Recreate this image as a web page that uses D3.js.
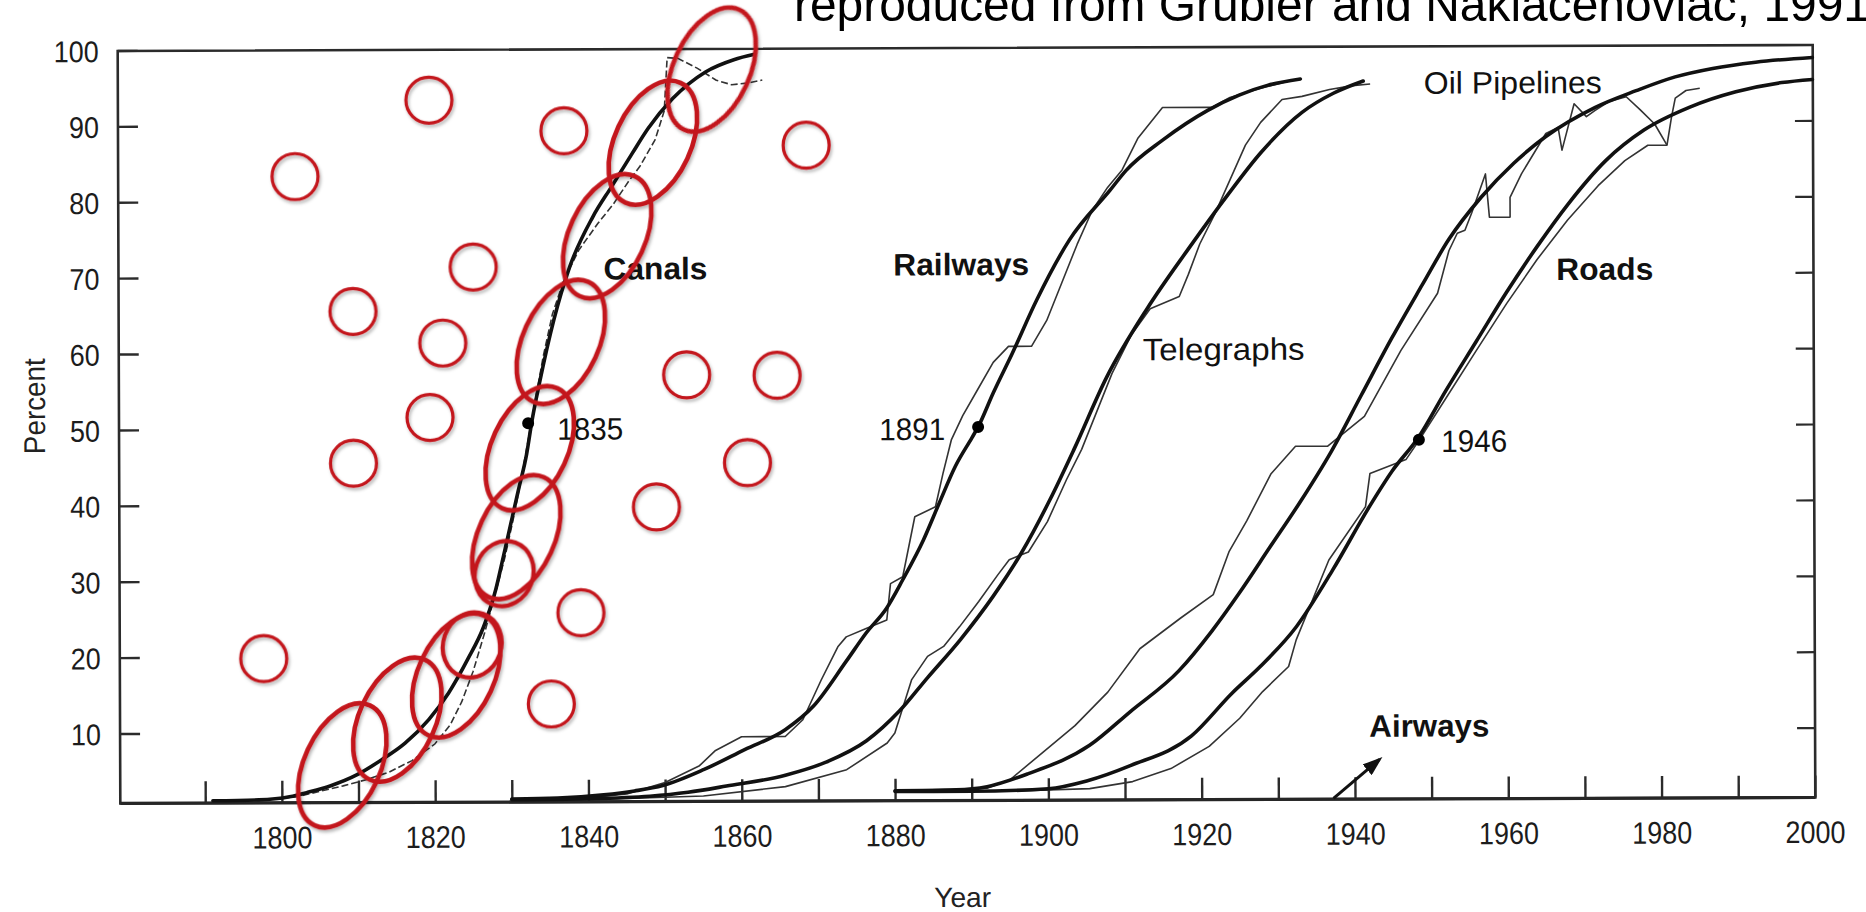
<!DOCTYPE html>
<html>
<head>
<meta charset="utf-8">
<title>Growth of US infrastructure (percent of saturation)</title>
<script src="https://cdn.jsdelivr.net/npm/d3@7/dist/d3.min.js"></script>
<style>
html,body{margin:0;padding:0;background:#ffffff;}
svg{display:block;}
</style>
</head>
<body>
<svg id="chart" width="1866" height="912"></svg>
<script>
// ================= DATA =================
const yearTicks = [1790,1800,1810,1820,1830,1840,1850,1860,1870,1880,1890,1900,1910,1920,1930,1940,1950,1960,1970,1980,1990,2000];
const yearLabels = [1800,1820,1840,1860,1880,1900,1920,1940,1960,1980,2000];
const percentTicks = [10,20,30,40,50,60,70,80,90,100];

// [year, percent] – smooth fitted curves (thick) and observed data (thin)
const canalsFit = [[1791,1.1],[1797,1.2],[1801,1.6],[1803.5,2.2],[1806.3,3],[1809.9,4.5],[1813,6.4],[1816.1,8.6],[1819.2,11.7],[1821.8,15.2],[1824.3,19.6],[1826.4,23.9],[1828,28.8],[1829,33.1],[1830,37.5],[1831,41.9],[1832.1,46.7],[1832.8,51],[1833.8,56],[1835.7,64.3],[1837.8,71.3],[1840.8,77.8],[1843.4,82],[1846,86.2],[1848.1,89.5],[1851.3,93.4],[1855.6,96.9],[1859.3,98.5],[1862,99.2]];
const canalsData = [[1791,1.1],[1798,1.2],[1802,1.6],[1805,2.3],[1808,3],[1811,3.8],[1814,4.8],[1817,6.3],[1820,8.5],[1822,11],[1823.5,14],[1825,18],[1826.5,23],[1828,28.5],[1829.2,33],[1830.3,38],[1831.3,43],[1832.3,48.5],[1833.3,54],[1834.3,59.5],[1835.5,65],[1837,69.5],[1839,73.5],[1841.5,77],[1843.5,79.5],[1845.5,82.5],[1847,84.5],[1849,88],[1850.2,91.8],[1850.6,98.8],[1852,98.7],[1854.5,97.4],[1857,95.8],[1859,95.2],[1861,95.4],[1863,95.8]];

const railwaysFit = [[1830,1.2],[1836,1.3],[1842,1.7],[1846,2.2],[1849.7,2.9],[1855.1,5.0],[1860.4,7.6],[1865.7,10.2],[1869.4,13.3],[1873.7,19.2],[1876.3,22.9],[1879,26.2],[1881.1,29.9],[1883.8,35.1],[1885.9,40],[1888,44.8],[1890.2,48.6],[1891,50],[1893,54.5],[1895.5,59.7],[1898.7,66.7],[1903,74.6],[1908.3,81.1],[1910.4,83.7],[1915.2,87.7],[1921.1,91.6],[1925.2,93.6],[1929,94.9],[1933.2,95.7]];
const railwaysData = [[1830,1.2],[1840,1.3],[1845,1.8],[1850,3.3],[1854.5,5.5],[1856.6,7.5],[1860,9.3],[1865.7,9.3],[1868,11.5],[1870.4,16.7],[1872.6,21.1],[1873.7,22.4],[1876.3,23.5],[1879,24.6],[1879.5,29.4],[1881.1,30.3],[1882.7,38.2],[1885.4,39.5],[1886.4,43.9],[1887.5,48.3],[1889,51.5],[1891,55],[1893,58.5],[1895,60.6],[1898,60.6],[1900,64],[1902,69],[1904,74],[1906,78.5],[1908,81.5],[1909.9,83.8],[1912,88],[1915.2,92],[1921.6,92],[1924,93.3],[1928,94.5],[1932,95.5]];

const telegraphsFit = [[1830,1.1],[1840,1.2],[1848,1.5],[1853,2],[1858,2.8],[1865.7,4.2],[1871,5.9],[1876.3,8.7],[1880.6,12.6],[1884.3,17],[1888.6,22],[1892.9,27.7],[1896.6,33.4],[1900.3,40.3],[1903.5,47],[1907.8,56.5],[1913.1,65.5],[1918.4,73.2],[1923.7,80.5],[1928,86],[1933.4,91.3],[1937.5,93.8],[1941.4,95.4]];
const telegraphsData = [[1830,1.1],[1845,1.2],[1855,1.5],[1865.7,2.7],[1873.7,4.9],[1879,8.4],[1880,9.7],[1881.1,13.2],[1882.2,16.7],[1884.3,19.8],[1886.4,21.1],[1888.5,23.7],[1891,27],[1893.5,30.5],[1895,32.5],[1897.5,33.5],[1900,37.5],[1902.5,43],[1904.5,47],[1906.5,52],[1908.5,57],[1911,62],[1913.5,65.5],[1917.3,67.1],[1918.5,70],[1920,74],[1922,78],[1924,82.5],[1926,87],[1928,90],[1930.8,93],[1933.4,93.4],[1937,94.3],[1940,94.8],[1942.3,95]];

const oilFit = [[1880,2.1],[1888,2.2],[1892,2.6],[1897.4,4.3],[1905.4,8],[1910.7,12.4],[1917.1,17.8],[1921.4,23],[1925,28],[1929,34],[1933,40],[1937,46.5],[1941,54],[1945,61.5],[1949,68.5],[1952.5,74.5],[1956.7,80],[1961,84.5],[1965.2,88],[1971.6,91.8],[1977,94],[1982.1,95.8],[1987,96.9],[1992.6,97.7],[2000,98.3]];
const oilData = [[1880,2.1],[1892,2.4],[1895,3.5],[1899.3,7.1],[1903.5,10.6],[1907.8,15],[1912,20.7],[1917.3,24.7],[1921.6,27.8],[1923.7,33.5],[1926,37.5],[1929.2,43.7],[1932.4,47.3],[1936.6,47.3],[1941.4,51.2],[1946.2,59.9],[1951,67.4],[1952.5,73],[1953.6,75.3],[1954.6,75.7],[1955.5,78],[1957.3,83.1],[1957.8,77.4],[1960.5,77.4],[1960.5,80],[1962,83.1],[1965.2,88.4],[1966.8,89.2],[1967.3,86.2],[1968.9,92.3],[1970.5,90.6],[1971.6,91.4],[1973.5,92.6],[1975.7,93.2],[1977.5,91.5],[1979.4,89.6],[1981.0,86.8]];

const roadsFit = [[1880,2],[1890,2],[1900,2.3],[1905,3.3],[1910.7,5.3],[1918.7,9.2],[1924,14.8],[1927.7,18.3],[1932.4,23.5],[1937.2,31],[1942,39.3],[1945,44],[1948.5,48.5],[1952,54.5],[1956,61],[1960,67.5],[1964,73.5],[1968,79],[1973,84.8],[1978,88.8],[1984,91.8],[1990,93.8],[1996,95],[2000,95.4]];
const roadsData = [[1880,2],[1895,2],[1905.4,2.3],[1911,3.2],[1916,4.9],[1921,7.8],[1925,11.5],[1928,15],[1931.4,18.3],[1932.4,21.8],[1936.7,32.3],[1941.5,39.3],[1942.1,43.7],[1946.8,45.5],[1948.5,48],[1952,53.5],[1956,59.8],[1960,66],[1964,71.8],[1968,77],[1972,81.5],[1975.5,84.8],[1978.5,86.8],[1981.0,86.8],[1981.6,90.5],[1982.1,93],[1983.5,94],[1985.3,94.3]];

// midpoint markers [year, percent]
const midpoints = [[1832.3,50.7],[1891.0,50.0],[1948.5,48.1]];
const midpointLabels = [["1835",1836.1,48.5],["1891",1878.1,48.3],["1946",1951.4,46.5]];
// series names [text, year, percent]
const seriesLabels = [["Canals",1842.2,69.6],["Railways",1880.0,70.0],["Telegraphs",1912.5,58.7],["Oil Pipelines",1949.3,93.7],["Roads",1966.5,69.1],["Airways",1941.9,9.0]];
// Airways arrow from -> to  [year, percent]
const airwaysArrow = [[1937.2,0.9],[1943.2,6.0]];

// red hand-drawn highlight marks [year, percent]
const redCircles = [[1802.0,83.3],[1819.5,93.3],[1837.1,89.2],[1868.7,87.2],[1825.2,71.3],[1809.5,65.5],[1821.2,61.3],[1819.5,51.5],[1809.5,45.5],[1853.0,57.0],[1864.8,56.9],[1860.9,45.4],[1849.0,39.6],[1839.1,25.7],[1835.2,13.7],[1797.7,19.8]];
const redEllipses = [[1807.9,5.7],[1815.1,11.7],[1822.8,17.5],[1830.7,35.7],[1832.5,47.4],[1836.6,61.4],[1842.7,75.3],[1848.7,87.6],[1856.4,97.2]];
const redSmallEllipses = [[1824.9,21.5],[1829.1,30.9]];

const titleText = "reproduced from Grubler and Naklacenoviac, 1991";

// ================= STYLE / LAYOUT =================
const FONT = "'Liberation Sans', Arial, Helvetica, sans-serif";
const frame = {left:119, right:1814, top:48, bottom:800.5};
const labelStyle = {
  "Canals":{weight:"bold", len:104},
  "Railways":{weight:"bold", len:136},
  "Telegraphs":{weight:"normal", len:162},
  "Oil Pipelines":{weight:"normal", len:178},
  "Roads":{weight:"bold", len:97},
  "Airways":{weight:"bold", len:120}
};
const RED = "#c3161d";

const svg = d3.select("#chart");
svg.append("rect").attr("width",1866).attr("height",912).attr("fill","#fff");

const x = d3.scaleLinear().domain([1779, 2000]).range([119.6, 1813.6]);
const y = d3.scaleLinear().domain([0, 100]).range([806.5, 47.5]);

const defs = svg.append("defs");
const flt = defs.append("filter").attr("id","shadow").attr("x","-20%").attr("y","-20%").attr("width","140%").attr("height","140%");
flt.append("feDropShadow").attr("dx",1.5).attr("dy",2.5).attr("stdDeviation",1.6).attr("flood-color","#000").attr("flood-opacity",0.28);
const mk = defs.append("marker").attr("id","arrowhead").attr("markerUnits","userSpaceOnUse")
  .attr("viewBox","0 0 20 14").attr("refX",16).attr("refY",7)
  .attr("markerWidth",20).attr("markerHeight",14).attr("orient","auto");
mk.append("path").attr("d","M0,0 L20,7 L0,14 Z").attr("fill","#111");

// slight scan rotation of the original figure
const g = svg.append("g").attr("transform","rotate(-0.2 960 425)");

// ---- axes ----
function condense(sel, perChar){
  sel.each(function(){
    const s = this.textContent;
    if (s) d3.select(this).attr("textLength", perChar*s.length).attr("lengthAdjust","spacingAndGlyphs");
  });
}
const xAxis = d3.axisBottom(x).tickValues(yearTicks).tickSize(-22).tickSizeOuter(0)
  .tickFormat(d => yearLabels.includes(d) ? String(d) : "");
const gx = g.append("g").attr("transform",`translate(0,${frame.bottom})`).call(xAxis);
gx.select(".domain").remove();
gx.selectAll(".tick line").attr("stroke","#2b2b2b").attr("stroke-width",2.4);
gx.selectAll(".tick text").attr("y",45.5).attr("dy",0)
  .attr("font-size",31).attr("font-family",FONT).attr("fill","#1c1c1c").call(condense,15);

const yAxisL = d3.axisLeft(y).tickValues(percentTicks).tickSize(-20).tickSizeOuter(0).tickFormat(d3.format("d"));
const gyl = g.append("g").attr("transform",`translate(${frame.left},0)`).call(yAxisL);
gyl.select(".domain").remove();
gyl.selectAll(".tick line").attr("stroke","#2b2b2b").attr("stroke-width",2.4);
gyl.selectAll(".tick text").attr("x",-19).attr("dy","0.37em")
  .attr("font-size",30).attr("font-family",FONT).attr("fill","#1c1c1c").call(condense,15);

const yAxisR = d3.axisRight(y).tickValues(percentTicks.filter(v => v < 100)).tickSize(-18).tickSizeOuter(0).tickFormat("");
const gyr = g.append("g").attr("transform",`translate(${frame.right},0)`).call(yAxisR);
gyr.select(".domain").remove();
gyr.selectAll(".tick line").attr("stroke","#2b2b2b").attr("stroke-width",2.2);

// frame
g.append("path")
  .attr("d",`M${frame.left},${frame.top} H${frame.right} V${frame.bottom} H${frame.left} Z`)
  .attr("fill","none").attr("stroke","#2b2b2b").attr("stroke-width",2.6);
g.append("line").attr("x1",frame.left).attr("x2",frame.right).attr("y1",frame.bottom).attr("y2",frame.bottom)
  .attr("stroke","#262626").attr("stroke-width",3.2);

// axis titles
g.append("text").attr("x",961).attr("y",907).attr("text-anchor","middle")
  .attr("font-family",FONT).attr("font-size",28).attr("fill","#222")
  .attr("textLength",57).attr("lengthAdjust","spacingAndGlyphs").text("Year");
g.append("text").attr("transform","translate(45,403) rotate(-90)").attr("text-anchor","middle")
  .attr("font-family",FONT).attr("font-size",30).attr("fill","#222")
  .attr("textLength",96).attr("lengthAdjust","spacingAndGlyphs").text("Percent");

// ---- curves ----
const thin = d3.line().x(d => x(d[0])).y(d => y(d[1]));
const smooth = d3.line().x(d => x(d[0])).y(d => y(d[1])).curve(d3.curveMonotoneX);

const dataSeries = [canalsData, railwaysData, telegraphsData, oilData, roadsData];
const fitSeries = [canalsFit, railwaysFit, telegraphsFit, oilFit, roadsFit];

g.selectAll("path.obs").data(dataSeries).join("path").attr("class","obs")
  .attr("d", thin).attr("fill","none").attr("stroke","#333").attr("stroke-width",1.6)
  .attr("stroke-linejoin","round")
  .attr("stroke-dasharray",(d,i) => i === 0 ? "7 3" : null);

g.selectAll("path.fit").data(fitSeries).join("path").attr("class","fit")
  .attr("d", smooth).attr("fill","none").attr("stroke","#111").attr("stroke-width",3.6)
  .attr("stroke-linecap","round");

g.selectAll("circle.mid").data(midpoints).join("circle").attr("class","mid")
  .attr("cx", d => x(d[0])).attr("cy", d => y(d[1])).attr("r",6).attr("fill","#000");

// airways arrow
g.append("path").datum(airwaysArrow).attr("d", thin)
  .attr("stroke","#111").attr("stroke-width",3).attr("fill","none").attr("marker-end","url(#arrowhead)");

// ---- labels ----
g.selectAll("text.series").data(seriesLabels).join("text").attr("class","series")
  .attr("x", d => x(d[1])).attr("y", d => y(d[2]))
  .attr("font-family",FONT).attr("font-size",31)
  .attr("font-weight", d => labelStyle[d[0]].weight)
  .attr("fill","#111")
  .attr("textLength", d => labelStyle[d[0]].len).attr("lengthAdjust","spacingAndGlyphs")
  .text(d => d[0]);

g.selectAll("text.midlab").data(midpointLabels).join("text").attr("class","midlab")
  .attr("x", d => x(d[1])).attr("y", d => y(d[2]))
  .attr("font-family",FONT).attr("font-size",31).attr("fill","#111")
  .attr("textLength",66).attr("lengthAdjust","spacingAndGlyphs")
  .text(d => d[0]);

// ---- red highlight annotations ----
const red = g.append("g").attr("filter","url(#shadow)");
red.selectAll("circle").data(redCircles).join("circle")
  .attr("cx", d => x(d[0])).attr("cy", d => y(d[1])).attr("r",23)
  .attr("fill","none").attr("stroke",RED).attr("stroke-width",3.2);
red.selectAll("ellipse.big").data(redEllipses).join("ellipse").attr("class","big")
  .attr("transform", d => `translate(${x(d[0])},${y(d[1])}) rotate(25)`)
  .attr("rx",38).attr("ry",66)
  .attr("fill","none").attr("stroke",RED).attr("stroke-width",4.6);
red.selectAll("ellipse.small").data(redSmallEllipses).join("ellipse").attr("class","small")
  .attr("transform", d => `translate(${x(d[0])},${y(d[1])}) rotate(20)`)
  .attr("rx",29).attr("ry",33)
  .attr("fill","none").attr("stroke",RED).attr("stroke-width",4.2);

// ---- source caption (top right, cut off by the slide edge as in the original) ----
svg.append("text").attr("x",794).attr("y",21)
  .attr("font-family",FONT).attr("font-size",47.5).attr("fill","#000")
  .attr("textLength",1076).attr("lengthAdjust","spacingAndGlyphs")
  .text(titleText);
</script>
</body>
</html>
